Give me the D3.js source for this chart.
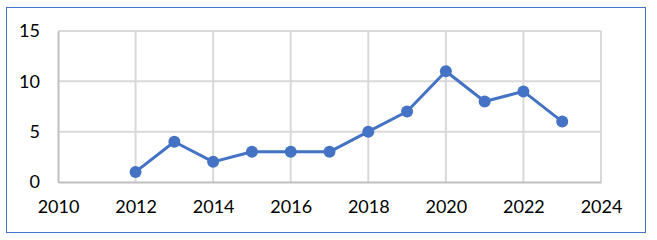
<!DOCTYPE html>
<html>
<head>
<meta charset="utf-8">
<script src="https://cdn.jsdelivr.net/npm/d3@7"></script>
<style>
  html, body { margin: 0; padding: 0; background: #fff; }
  svg { display: block; }
  .tick text { font-family: Lato, "Liberation Sans", Arial, sans-serif; font-size: 18px; fill: #000; }
</style>
</head>
<body>
<svg id="chart" width="657" height="240"></svg>
<script>
// data
const years = [2012, 2013, 2014, 2015, 2016, 2017, 2018, 2019, 2020, 2021, 2022, 2023];
const counts = [1, 4, 2, 3, 3, 3, 5, 7, 11, 8, 9, 6];
const xTicks = [2010, 2012, 2014, 2016, 2018, 2020, 2022, 2024];
const yTicks = [0, 5, 10, 15];

const svg = d3.select("#chart");
const margins = { left: 58, right: 56, top: 31, bottom: 58 };
const width = +svg.attr("width");
const height = +svg.attr("height");

// outer frame
svg.append("rect")
    .attr("x", 6.5).attr("y", 7.5)
    .attr("width", 639).attr("height", 225)
    .attr("fill", "none")
    .attr("stroke", "#4472c4")
    .attr("stroke-width", 1);

const xScale = d3.scaleLinear()
    .domain([2010, 2024])
    .range([margins.left, width - margins.right]);
const yScale = d3.scaleLinear()
    .domain([0, 15])
    .range([height - margins.bottom, margins.top]);

// gridlines
const grid = svg.append("g");
grid.selectAll(".vgrid")
    .data(xTicks.slice(1))
    .enter().append("line")
    .attr("x1", d => xScale(d)).attr("x2", d => xScale(d))
    .attr("y1", yScale(15)).attr("y2", yScale(0))
    .attr("stroke", "#d9d9d9").attr("stroke-width", 2);
grid.selectAll(".hgrid")
    .data(yTicks.slice(1))
    .enter().append("line")
    .attr("x1", xScale(2010)).attr("x2", xScale(2024))
    .attr("y1", d => yScale(d)).attr("y2", d => yScale(d))
    .attr("stroke", "#d9d9d9").attr("stroke-width", 2);

// axes
const xAxis = svg.append("g")
    .attr("transform", `translate(0,${yScale(0)})`)
    .call(d3.axisBottom(xScale).tickValues(xTicks).tickFormat(d3.format("d")).tickSize(0).tickPadding(18));
xAxis.select(".domain").attr("stroke", "#bfbfbf").attr("stroke-width", 2);

const yAxis = svg.append("g")
    .attr("transform", `translate(${xScale(2010)},0)`)
    .call(d3.axisLeft(yScale).tickValues(yTicks).tickSize(0).tickPadding(18));
yAxis.select(".domain").attr("stroke", "#bfbfbf").attr("stroke-width", 2);

// line + markers
const points = years.map((y, i) => ({ year: y, value: counts[i] }));
const line = d3.line()
    .x(d => xScale(d.year))
    .y(d => yScale(d.value));

svg.append("path")
    .datum(points)
    .attr("d", line)
    .attr("fill", "none")
    .attr("stroke", "#4472c4")
    .attr("stroke-width", 3)
    .attr("stroke-linejoin", "round");

svg.selectAll(".marker")
    .data(points)
    .enter().append("circle")
    .attr("class", "marker")
    .attr("cx", d => xScale(d.year))
    .attr("cy", d => yScale(d.value))
    .attr("r", 6)
    .attr("fill", "#4472c4");
</script>
</body>
</html>
